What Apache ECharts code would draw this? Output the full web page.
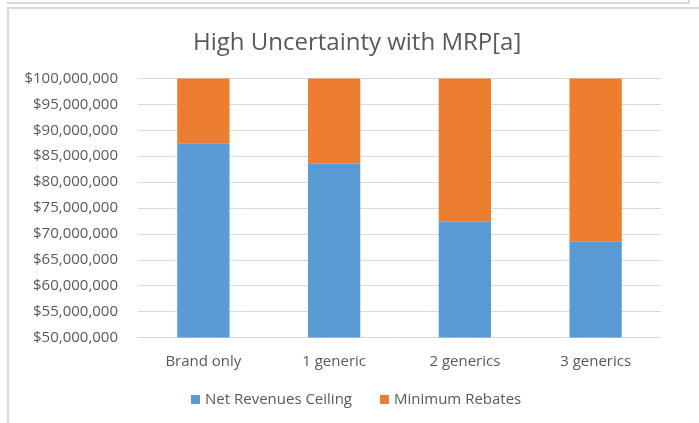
<!DOCTYPE html>
<html>
<head>
<meta charset="utf-8">
<script src="https://cdn.jsdelivr.net/npm/echarts@6/dist/echarts.min.js"></script>
<style>
  html, body { margin: 0; padding: 0; background: #fff; }
  #prev { position: absolute; left: 7px; top: -10px; width: 681px; height: 12px;
          border-right: 2px solid #d9d9d9; border-bottom: 2px solid #d9d9d9; }
  #frame { position: absolute; left: 7px; top: 7px; width: 692px; height: 416px;
           border-left: 2px solid #d9d9d9; border-top: 2px solid #d9d9d9; }
  #chart { position: absolute; left: 0; top: 0; width: 699px; height: 423px; }
</style>
</head>
<body>
<div id="prev"></div>
<div id="frame"></div>
<div id="chart"></div>
<script>
const categories = ['Brand only', '1 generic', '2 generics', '3 generics'];
const netRevenuesCeiling = [87500000, 83650000, 72450000, 68600000];
const minimumRebates = [12500000, 16350000, 27550000, 31400000];

const chart = echarts.init(document.getElementById('chart'), null, { renderer: 'canvas' });
const font = 'Open Sans';

const option = {
  animation: false,
  title: {
    text: 'High Uncertainty with MRP[a]',
    left: 188,
    top: 26,
    textStyle: { fontFamily: font, fontSize: 24, fontWeight: 'normal', color: '#595959' }
  },
  legend: {
    bottom: 11,
    left: 186,
    itemWidth: 9,
    itemHeight: 9,
    itemGap: 28,
    icon: 'rect',
    textStyle: { fontFamily: font, fontSize: 15, color: '#595959' },
    data: ['Net Revenues Ceiling', 'Minimum Rebates']
  },
  grid: { left: 138, right: 38, top: 78.5, bottom: 85.5 },
  xAxis: {
    type: 'category',
    data: categories,
    axisLine: { lineStyle: { color: '#d9d9d9' } },
    axisTick: { show: false },
    axisLabel: { fontFamily: font, fontSize: 15, color: '#595959', margin: 17 }
  },
  yAxis: {
    type: 'value',
    min: 50000000,
    max: 100000000,
    interval: 5000000,
    axisLine: { show: false },
    axisTick: { show: false },
    splitLine: { lineStyle: { color: '#d9d9d9' } },
    axisLabel: {
      fontFamily: font, fontSize: 15, color: '#595959', margin: 20,
      formatter: v => '$' + echarts.format.addCommas(v)
    }
  },
  series: [
    {
      name: 'Net Revenues Ceiling',
      type: 'bar',
      stack: 'total',
      barWidth: '40%',
      itemStyle: { color: '#5B9BD5' },
      data: netRevenuesCeiling
    },
    {
      name: 'Minimum Rebates',
      type: 'bar',
      stack: 'total',
      itemStyle: { color: '#ED7D31' },
      data: minimumRebates
    }
  ]
};

chart.setOption(option);
</script>
</body>
</html>
